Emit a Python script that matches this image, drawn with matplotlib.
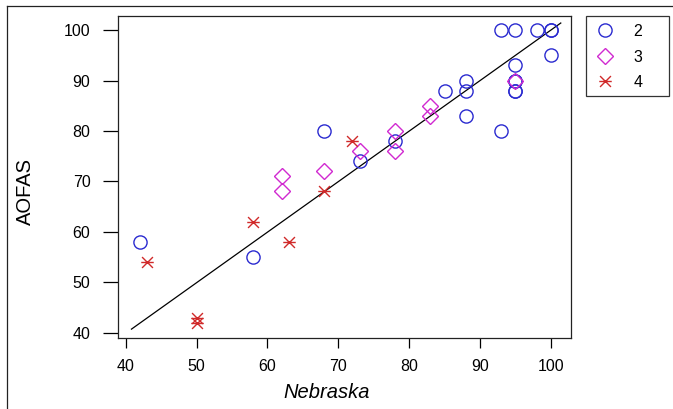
import matplotlib
matplotlib.use("Agg")
import matplotlib.pyplot as plt
from matplotlib.path import Path
from matplotlib.lines import Line2D
from matplotlib.patches import Rectangle
import numpy as np

plt.rcParams['font.family'] = ['Liberation Sans Narrow', 'Liberation Sans', 'DejaVu Sans']

# ---- data ----
g2_x = [93, 95, 98, 100, 100, 100, 95, 95, 95, 95, 95, 88, 88, 85, 88, 93, 68, 78, 73, 58, 42]
g2_y = [100, 100, 100, 100, 100, 95, 93, 90, 90, 88, 88, 90, 88, 88, 83, 80, 80, 78, 74, 55, 58]
g3_x = [95, 83, 83, 78, 78, 73, 68, 62, 62]
g3_y = [90, 85, 83, 80, 76, 76, 72, 71, 68]
g4_x = [72, 68, 58, 63, 43, 50, 50]
g4_y = [78, 68, 62, 58, 54, 43, 42]
line_x = [40.8, 101.4]
line_y = [40.7, 101.4]
xticks = [40, 50, 60, 70, 80, 90, 100]
yticks = [40, 50, 60, 70, 80, 90, 100]
groups = ["2", "3", "4"]

W, H = 673, 409
fig = plt.figure(figsize=(W / 100, H / 100), dpi=100)
ax = fig.add_axes([118 / W, 1 - 337.7 / H, (570.7 - 118) / W, (337.7 - 15.7) / H])

c_blue = '#2a2ad0'
c_mag = '#d02ad0'
c_red = '#d02a2a'

ast = Path([(-1, -1), (1, 1), (-1, 1), (1, -1), (-1.15, 0), (1.15, 0)],
           [Path.MOVETO, Path.LINETO, Path.MOVETO, Path.LINETO, Path.MOVETO, Path.LINETO])

ms_c, ms_d, ms_a = 9.5, 8.0, 9.0
ax.plot(line_x, line_y, color='black', lw=0.9)
ax.plot(g2_x, g2_y, linestyle='none', marker='o', ms=ms_c, mfc='none', mec=c_blue, mew=1.0)
ax.plot(g3_x, g3_y, linestyle='none', marker='D', ms=ms_d, mfc='none', mec=c_mag, mew=1.0)
ax.plot(g4_x, g4_y, linestyle='none', marker=ast, ms=ms_a, mfc='none', mec=c_red, mew=1.0)

ax.set_xlim(38.9, 102.8)
ax.set_ylim(39.0, 102.85)
ax.set_xticks(xticks)
ax.set_yticks(yticks)
ax.tick_params(axis='x', direction='out', length=7.2, width=0.9, pad=8, labelsize=11.5)
ax.tick_params(axis='y', direction='out', length=10.8, width=0.9, pad=9, labelsize=11.5)
for s in ax.spines.values():
    s.set_linewidth(0.9)
    s.set_color('#222222')

fig.text(327 / W, 1 - 393 / H, 'Nebraska', ha='center', va='center', fontsize=14.5, style='italic')
fig.text(25 / W, 1 - 192 / H, 'AOFAS', ha='center', va='center', fontsize=14.5, rotation=90)

# legend
handles = [
    Line2D([], [], linestyle='none', marker='o', ms=ms_c, mfc='none', mec=c_blue, mew=1.0),
    Line2D([], [], linestyle='none', marker='D', ms=ms_d, mfc='none', mec=c_mag, mew=1.0),
    Line2D([], [], linestyle='none', marker=ast, ms=ms_a, mfc='none', mec=c_red, mew=1.0),
]
leg = fig.legend(handles, groups, loc='upper left',
                 bbox_to_anchor=(595 / W, 1 - 24 / H), bbox_transform=fig.transFigure,
                 fontsize=11.5, frameon=False,
                 borderpad=0.0, labelspacing=0.66, handlelength=1.2, handletextpad=1.2,
                 borderaxespad=0)
fig.add_artist(Rectangle((586 / W, 1 - 96 / H), (669 - 586) / W, (96 - 16) / H,
                         transform=fig.transFigure, fill=False, edgecolor='#333333', lw=0.9))

# outer frame lines (top and left)
fig.add_artist(Line2D([7 / W, 1], [1 - 6 / H, 1 - 6 / H], transform=fig.transFigure, color='#222222', lw=0.9))
fig.add_artist(Line2D([7 / W, 7 / W], [0, 1 - 6 / H], transform=fig.transFigure, color='#222222', lw=0.9))

fig.savefig('out.png', dpi=100)
